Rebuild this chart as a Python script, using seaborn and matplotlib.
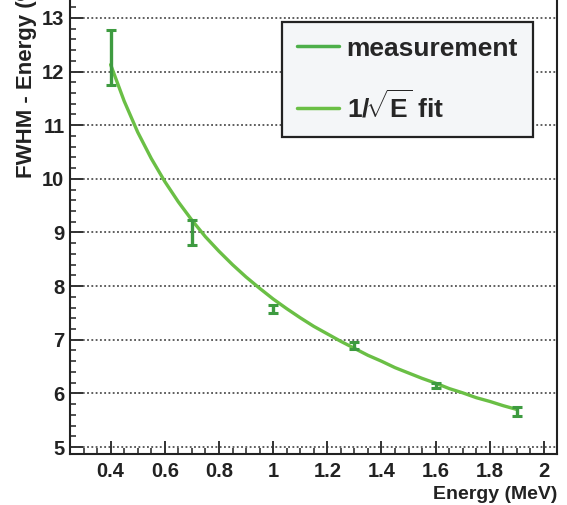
import numpy as np
import pandas as pd
import matplotlib
matplotlib.use("Agg")
import matplotlib.pyplot as plt
from matplotlib.lines import Line2D
from matplotlib.ticker import MultipleLocator
import seaborn as sns

# ---- data ----
energy = [0.4, 0.7, 1.0, 1.3, 1.6, 1.9]
fwhm = [12.26, 9.00, 7.57, 6.89, 6.15, 5.66]
fwhm_err = [0.51, 0.24, 0.07, 0.07, 0.05, 0.08]

fit_energy = [0.40, 0.45, 0.50, 0.55, 0.60, 0.65, 0.70, 0.75, 0.80, 0.85,
              0.90, 0.95, 1.00, 1.05, 1.10, 1.15, 1.20, 1.25, 1.30, 1.35,
              1.40, 1.45, 1.50, 1.55, 1.60, 1.65, 1.70, 1.75, 1.80, 1.85, 1.90]
fit_fwhm = [12.13, 11.45, 10.87, 10.38, 9.95, 9.57, 9.23, 8.92, 8.65, 8.40,
            8.17, 7.96, 7.76, 7.58, 7.41, 7.25, 7.11, 6.97, 6.84, 6.71,
            6.60, 6.48, 6.38, 6.28, 6.19, 6.09, 6.01, 5.92, 5.85, 5.77, 5.70]

x_ticks = [0.4, 0.6, 0.8, 1.0, 1.2, 1.4, 1.6, 1.8, 2.0]
x_tick_labels = ["0.4", "0.6", "0.8", "1", "1.2", "1.4", "1.6", "1.8", "2"]
y_ticks = [5, 6, 7, 8, 9, 10, 11, 12, 13]
labels = ["measurement", r"$\mathbf{1/}\!\sqrt{\mathbf{E}}$ fit"]

sns.set_style("white")
plt.rcParams["font.family"] = ["Liberation Sans", "DejaVu Sans"]
plt.rcParams["mathtext.fontset"] = "custom"
plt.rcParams["mathtext.bf"] = "Liberation Sans:bold"
plt.rcParams["mathtext.rm"] = "Liberation Sans:bold"
plt.rcParams["mathtext.it"] = "Liberation Sans:bold"

meas_color = "#3e9b40"
fit_color = "#6abf45"

W, H = 567, 505
fig = plt.figure(figsize=(W / 100, H / 100), dpi=100)
left, right, bottom_px, top_px = 70, 557, 454, -18
ax = fig.add_axes([left / W, (H - bottom_px) / H,
                   (right - left) / W, (bottom_px - top_px) / H])

df_fit = pd.DataFrame({"E": fit_energy, "F": fit_fwhm})
sns.lineplot(data=df_fit, x="E", y="F", ax=ax, color=fit_color, lw=2.4,
             zorder=3, sort=False)
ax.errorbar(energy, fwhm, yerr=fwhm_err, fmt="none", ecolor=meas_color,
            elinewidth=2.4, capsize=3.8, capthick=2.2, zorder=4)

ax.set_xlim(0.25, 2.048)
ax.set_ylim(4.87, 13.67)

for y in y_ticks:
    ax.axhline(y, color="#333333", lw=1.1, ls=(0, (1.2, 1.6)), zorder=1)

ax.set_xticks(x_ticks)
ax.set_xticklabels(x_tick_labels)
ax.set_yticks(y_ticks)
ax.xaxis.set_minor_locator(MultipleLocator(0.05))
ax.yaxis.set_minor_locator(MultipleLocator(0.2))
ax.tick_params(axis="both", which="major", direction="in", length=9.5,
               width=1.3, color="#222222", labelsize=14.5, labelcolor="#222222")
ax.tick_params(axis="both", which="minor", direction="in", length=4.5,
               width=1.1, color="#222222")
ax.tick_params(axis="x", which="major", pad=6)
ax.tick_params(axis="y", which="major", pad=4)
ax.tick_params(left=True, bottom=True, right=False, top=False)
ax.tick_params(which="minor", left=True, bottom=True, right=False, top=False)
for lab in ax.get_xticklabels() + ax.get_yticklabels():
    lab.set_fontweight("bold")

for s in ["left", "bottom", "right", "top"]:
    ax.spines[s].set_color("#222222")
    ax.spines[s].set_linewidth(1.5)

ax.set_xlabel("Energy (MeV)", fontsize=14, fontweight="bold", color="#222222")
ax.xaxis.set_label_coords(1.0, -0.068)
ax.xaxis.label.set_ha("right")
ax.set_ylabel("FWHM - Energy (%)", fontsize=16, fontweight="bold", color="#222222")
ax.yaxis.set_label_coords(-0.090, 1.019)
ax.yaxis.label.set_ha("right")
ax.yaxis.label.set_va("center")

handles = [Line2D([0], [0], color="#4daf4a", lw=2.5),
           Line2D([0], [0], color=fit_color, lw=2.5)]
leg = ax.legend(handles, labels, loc="upper left",
                bbox_to_anchor=(282 / W, 1 - 22 / H),
                bbox_transform=fig.transFigure, borderaxespad=0,
                frameon=True, fancybox=False, framealpha=1,
                facecolor="#f4f6f8", edgecolor="#222222",
                prop={"weight": "bold", "size": 19},
                handlelength=1.6, handletextpad=0.3, labelspacing=1.1,
                borderpad=0.55)
leg.get_frame().set_linewidth(1.6)

fig.savefig("out.png", dpi=100)
